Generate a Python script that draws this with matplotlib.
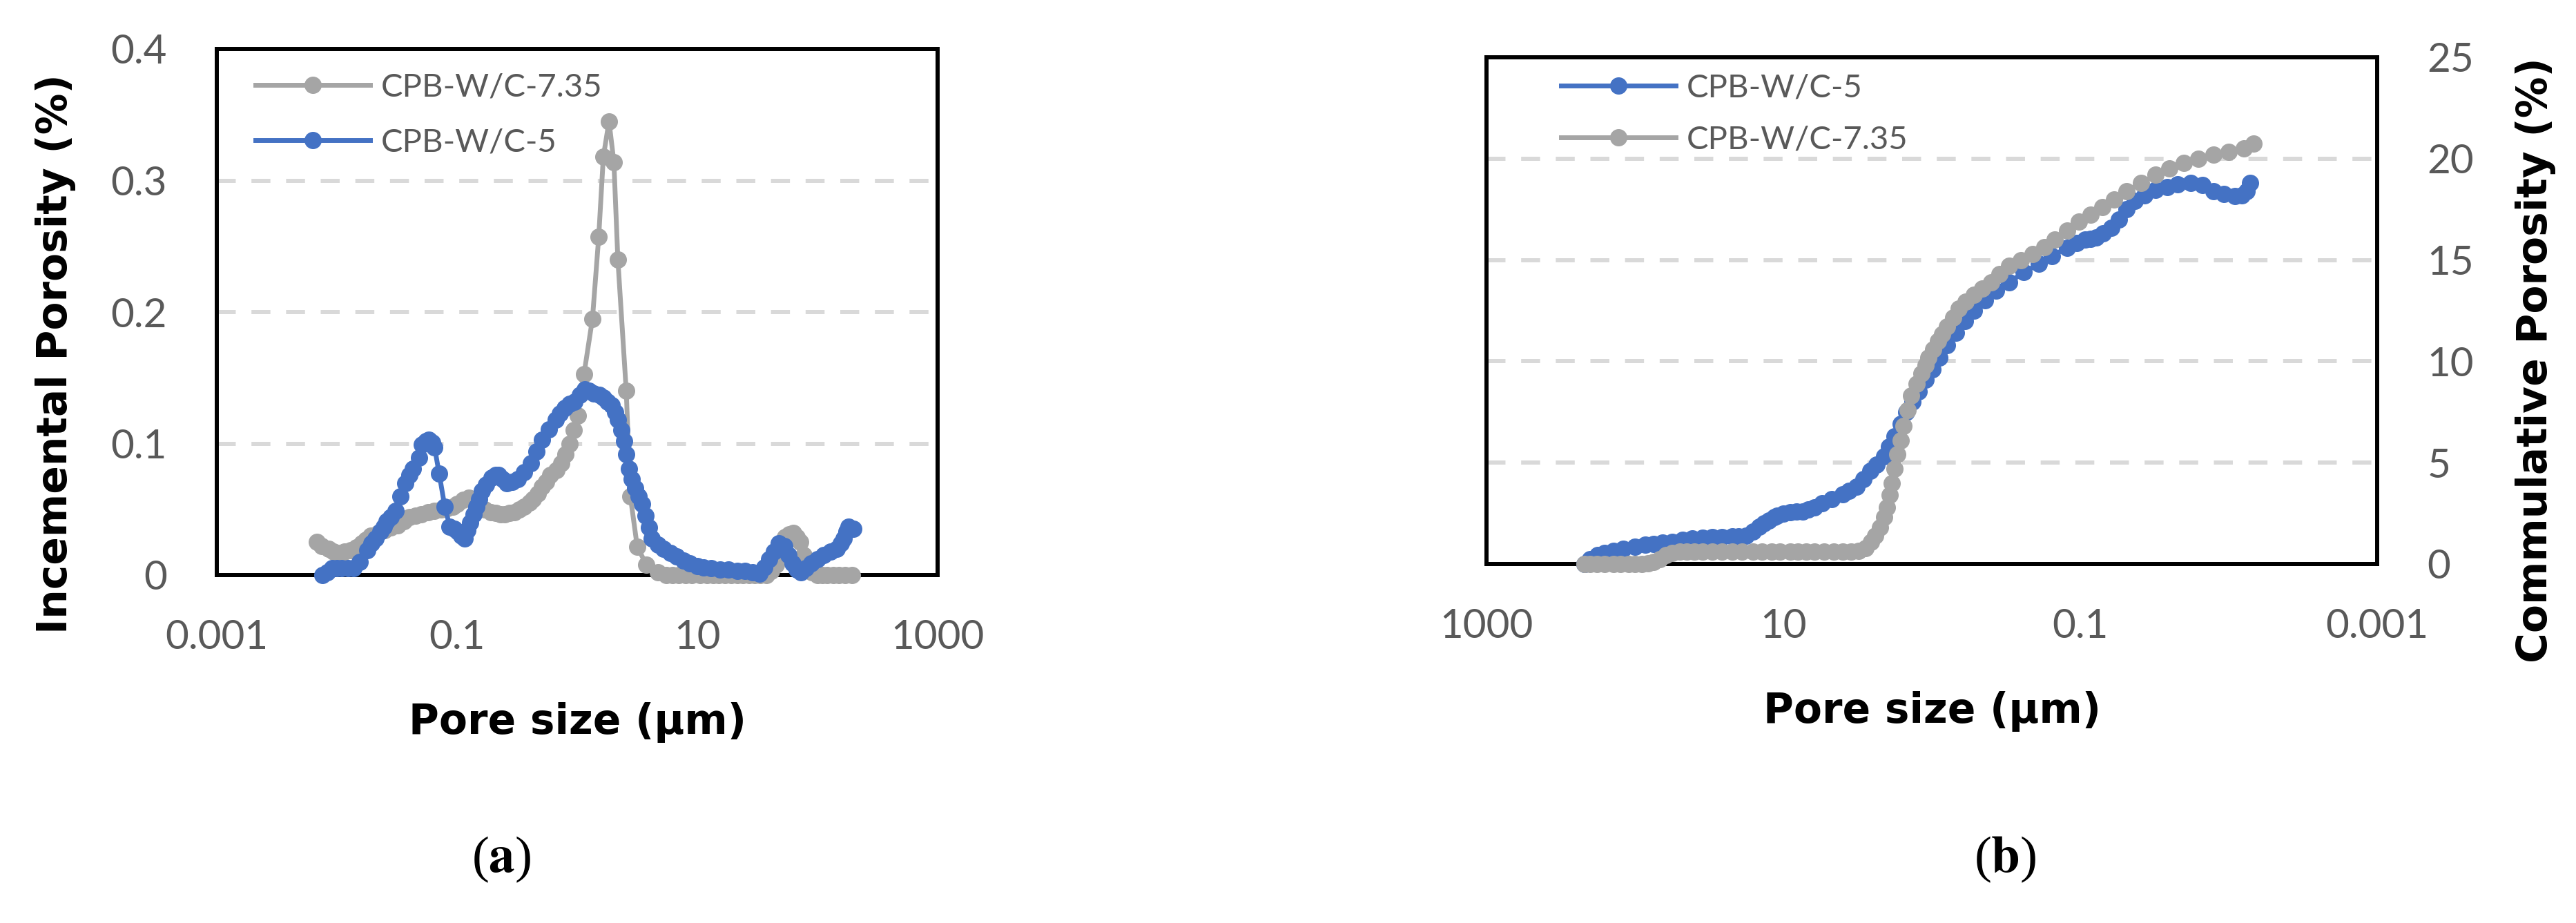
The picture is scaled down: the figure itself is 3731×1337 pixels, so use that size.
import matplotlib
matplotlib.use("Agg")
import matplotlib.pyplot as plt
from matplotlib.ticker import FixedLocator, FixedFormatter

# (a) incremental porosity vs pore size (um)
inc_x_735 = [0.0068, 0.0075, 0.0085, 0.0094, 0.0102, 0.0115, 0.013, 0.0145, 0.016, 0.0175, 0.019,
             0.022, 0.025, 0.028, 0.032, 0.036, 0.040, 0.045, 0.05, 0.057, 0.065, 0.074, 0.083,
             0.092, 0.10, 0.113, 0.126, 0.138, 0.15, 0.17, 0.19, 0.21, 0.23, 0.25, 0.275, 0.3,
             0.33, 0.36, 0.4, 0.43, 0.47, 0.51, 0.55, 0.6, 0.67, 0.74, 0.8, 0.87, 0.94, 1.01,
             1.14, 1.34, 1.51, 1.65, 1.84, 2.02, 2.18, 2.56, 2.77, 3.16, 3.76, 4.7, 5.5, 6.2, 7,
             8, 9, 10.5, 12, 13.5, 15, 17, 19, 21.5, 24, 27, 30, 33.5, 37.6, 41, 45, 49, 54, 58,
             63, 67, 72, 77, 83, 90, 100, 110, 120, 135, 150, 170, 195]
inc_y_735 = [0.025, 0.022, 0.020, 0.018, 0.017, 0.018, 0.019, 0.021, 0.024, 0.027, 0.030,
             0.032, 0.034, 0.036, 0.038, 0.041, 0.044, 0.045, 0.046, 0.048, 0.049, 0.050, 0.051,
             0.052, 0.054, 0.057, 0.059, 0.057, 0.055, 0.050, 0.048, 0.047, 0.046, 0.046, 0.047,
             0.048, 0.050, 0.052, 0.055, 0.058, 0.062, 0.067, 0.071, 0.076, 0.080, 0.085, 0.092,
             0.100, 0.110, 0.121, 0.153, 0.195, 0.257, 0.318, 0.345, 0.314, 0.240, 0.140, 0.060,
             0.0215, 0.008, 0.002, 0.0, 0.0, 0.0, 0.0, 0.0, 0.0, 0.0, 0.0, 0.0, 0.0, 0.0, 0.0,
             0.0, 0.0, 0.0, 0.0, 0.0, 0.003, 0.008, 0.018, 0.029, 0.031, 0.032, 0.029, 0.025,
             0.015, 0.006, 0.002, 0.0, 0.0, 0.0, 0.0, 0.0, 0.0, 0.0]
inc_x_5 = [0.0076, 0.0083, 0.0091, 0.01, 0.011, 0.0124, 0.0138, 0.0155, 0.0178, 0.0195, 0.021,
           0.023, 0.0245, 0.026, 0.028, 0.031, 0.034, 0.037, 0.040, 0.043, 0.048, 0.051, 0.055,
           0.058, 0.062, 0.065, 0.071, 0.079, 0.087, 0.095, 0.102, 0.108, 0.115, 0.122, 0.129,
           0.137, 0.145, 0.153, 0.162, 0.175, 0.195, 0.21, 0.22, 0.24, 0.26, 0.29, 0.32, 0.36,
           0.41, 0.46, 0.51, 0.58, 0.66, 0.72, 0.79, 0.87, 0.95, 1.05, 1.15, 1.26, 1.38, 1.52,
           1.66, 1.8, 1.95, 2.07, 2.19, 2.32, 2.45, 2.57, 2.69, 2.85, 3.02, 3.24, 3.47, 3.72,
           3.95, 4.17, 4.7, 5.25, 6.0, 6.76, 7.7, 8.7, 10, 11.2, 13, 15.5, 18.2, 21.5, 25, 29,
           33, 36, 39.8, 43.5, 47.9, 53, 57, 61.7, 67, 72.4, 80, 89, 100, 112, 128, 145, 156,
           166, 175, 182, 200]
inc_y_5 = [0.0, 0.002, 0.005, 0.005, 0.005, 0.005, 0.005, 0.010, 0.019, 0.024, 0.028, 0.033,
           0.037, 0.041, 0.044, 0.049, 0.060, 0.070, 0.076, 0.081, 0.089, 0.099, 0.102, 0.103,
           0.101, 0.097, 0.077, 0.052, 0.037, 0.035, 0.033, 0.030, 0.028, 0.034, 0.040, 0.046,
           0.052, 0.058, 0.064, 0.069, 0.074, 0.076, 0.076, 0.073, 0.070, 0.071, 0.073, 0.078,
           0.085, 0.094, 0.103, 0.111, 0.118, 0.123, 0.127, 0.130, 0.132, 0.137, 0.141, 0.140,
           0.138, 0.137, 0.135, 0.132, 0.129, 0.124, 0.118, 0.110, 0.102, 0.092, 0.081, 0.073,
           0.066, 0.060, 0.054, 0.045, 0.036, 0.028, 0.023, 0.020, 0.017, 0.014, 0.011, 0.009,
           0.007, 0.006, 0.005, 0.004, 0.004, 0.003, 0.003, 0.002, 0.001, 0.006, 0.012, 0.018,
           0.024, 0.022, 0.015, 0.009, 0.004, 0.002, 0.005, 0.009, 0.012, 0.015, 0.018, 0.020,
           0.024, 0.028, 0.033, 0.037, 0.035]

# (b) cumulative porosity vs pore size (um)
cum_x_5 = [219, 200, 178, 160, 140, 120, 100, 85, 75, 65, 56, 48, 41, 35, 30, 26, 22, 20, 17.8,
           16, 14.5, 13.5, 12.5, 11.5, 11, 10, 9, 8.2, 7.4, 6.8, 6.2, 5.5, 4.7, 4.0, 3.6, 3.2,
           2.9, 2.6, 2.35, 2.1, 1.95, 1.78, 1.62, 1.48, 1.35, 1.23, 1.1, 0.99, 0.89, 0.79, 0.69,
           0.60, 0.52, 0.44, 0.37, 0.30, 0.24, 0.19, 0.155, 0.123, 0.105, 0.093, 0.085, 0.078,
           0.07, 0.062, 0.055, 0.049, 0.043, 0.037, 0.031, 0.026, 0.022, 0.018, 0.015, 0.0126,
           0.0108, 0.0091, 0.0082, 0.0076, 0.0072]
cum_y_5 = [0.0, 0.25, 0.45, 0.55, 0.65, 0.75, 0.85, 0.95, 1.0, 1.05, 1.1, 1.18, 1.25, 1.3,
           1.33, 1.34, 1.35, 1.37, 1.4, 1.6, 1.84, 2.0, 2.15, 2.3, 2.4, 2.48, 2.55, 2.58, 2.6,
           2.7, 2.8, 3.0, 3.2, 3.45, 3.6, 3.8, 4.2, 4.6, 4.9, 5.3, 5.8, 6.3, 6.9, 7.5, 8.0, 8.5,
           9.1, 9.6, 10.2, 10.8, 11.4, 12.0, 12.5, 13.0, 13.5, 13.9, 14.4, 14.8, 15.2, 15.6,
           15.85, 16.0, 16.05, 16.1, 16.3, 16.6, 17.0, 17.5, 17.9, 18.2, 18.45, 18.6, 18.75,
           18.8, 18.7, 18.4, 18.25, 18.15, 18.2, 18.4, 18.8]
cum_x_735 = [219, 200, 180, 160, 140, 125, 110, 100, 90, 82, 75, 68, 62, 56, 50, 45, 40, 35, 30,
             26, 22, 19, 16, 14, 12, 10.5, 9, 8, 7, 6.2, 5.3, 4.6, 4, 3.5, 3.1, 2.8, 2.57, 2.4,
             2.24, 2.1, 2.0, 1.93, 1.86, 1.78, 1.70, 1.62, 1.55, 1.46, 1.38, 1.27, 1.17, 1.1,
             1.05, 0.98, 0.91, 0.85, 0.79, 0.72, 0.66, 0.59, 0.52, 0.46, 0.40, 0.35, 0.30, 0.25,
             0.21, 0.175, 0.148, 0.123, 0.102, 0.085, 0.071, 0.059, 0.049, 0.039, 0.031, 0.025,
             0.020, 0.016, 0.0126, 0.0100, 0.0079, 0.0068]
cum_y_735 = [0.0, 0.0, 0.0, 0.0, 0.0, 0.0, 0.0, 0.0, 0.0, 0.05, 0.1, 0.25, 0.45, 0.55, 0.6, 0.6,
             0.6, 0.6, 0.6, 0.6, 0.6, 0.6, 0.6, 0.6, 0.6, 0.6, 0.6, 0.6, 0.6, 0.6, 0.6, 0.6, 0.6,
             0.62, 0.65, 0.8, 1.1, 1.4, 1.8, 2.3, 2.8, 3.4, 4.0, 4.7, 5.4, 6.1, 6.8, 7.6, 8.3,
             8.9, 9.4, 9.8, 10.2, 10.6, 11.0, 11.35, 11.7, 12.15, 12.6, 12.95, 13.3, 13.6, 13.9,
             14.3, 14.7, 15.0, 15.3, 15.65, 16.0, 16.45, 16.9, 17.25, 17.6, 18.0, 18.4, 18.8,
             19.2, 19.5, 19.8, 20.0, 20.2, 20.35, 20.5, 20.75]

x_ticks = [0.001, 0.1, 10, 1000]
x_ticklabels = ['0.001', '0.1', '10', '1000']
inc_ticks = [0, 0.1, 0.2, 0.3, 0.4]
inc_ticklabels = ['0', '0.1', '0.2', '0.3', '0.4']
cum_ticks = [0, 5, 10, 15, 20, 25]
cum_ticklabels = ['0', '5', '10', '15', '20', '25']

BLUE = '#4472C4'
GRAY = '#A5A5A5'
TXT = '#595959'
W, H = 3731, 1337

plt.rcParams['font.family'] = ['Lato', 'DejaVu Sans']
plt.rcParams['mathtext.fontset'] = 'stix'

fig = plt.figure(figsize=(W / 100, H / 100), dpi=100)
ax1 = fig.add_axes([314 / W, 1 - 833 / H, 1044 / W, 762 / H])
ax2 = fig.add_axes([2153 / W, 1 - 817 / H, 1290 / W, 734 / H])

line_kw = dict(lw=5, marker='o', ms=17, clip_on=False, zorder=5)


def style_axis(ax, yticks, ylabels):
    ax.set_xscale('log')
    ax.xaxis.set_major_locator(FixedLocator(x_ticks))
    ax.xaxis.set_major_formatter(FixedFormatter(x_ticklabels))
    ax.xaxis.set_minor_locator(FixedLocator([]))
    ax.set_yticks(yticks)
    ax.set_yticklabels(ylabels)
    ax.tick_params(length=0, labelsize=42, labelcolor=TXT)
    ax.tick_params(axis='x', pad=46)
    ax.tick_params(axis='y', pad=52)
    for s in ax.spines.values():
        s.set_linewidth(4.3)
        s.set_color('black')
    for v in yticks[1:-1]:
        ax.axhline(v, color='#D9D9D9', lw=4.3, dashes=(4.6, 3.8), zorder=1)


# (a)
ax1.plot(inc_x_735, inc_y_735, color=GRAY, label='CPB-W/C-7.35', **line_kw)
ax1.plot(inc_x_5, inc_y_5, color=BLUE, label='CPB-W/C-5', **line_kw)
ax1.set_xlim(0.001, 1000)
ax1.set_ylim(0, 0.4)
style_axis(ax1, inc_ticks, inc_ticklabels)
ax1.legend(loc='upper left', bbox_to_anchor=(0.054, 0.955), frameon=False, fontsize=34,
           labelcolor=TXT, handlelength=3.5, handletextpad=0.35, labelspacing=0.8,
           borderpad=0, borderaxespad=0)

# (b)
ax2.plot(cum_x_5, cum_y_5, color=BLUE, label='CPB-W/C-5', **line_kw)
ax2.plot(cum_x_735, cum_y_735, color=GRAY, label='CPB-W/C-7.35', **line_kw)
ax2.set_xlim(1000, 0.001)
ax2.set_ylim(0, 25)
style_axis(ax2, cum_ticks, cum_ticklabels)
ax2.yaxis.tick_right()
ax2.legend(loc='upper left', bbox_to_anchor=(0.084, 0.968), frameon=False, fontsize=34,
           labelcolor=TXT, handlelength=3.5, handletextpad=0.35, labelspacing=0.7,
           borderpad=0, borderaxespad=0)

lab_kw = dict(family='DejaVu Sans', fontweight='bold', fontsize=43, color='black')
fig.text(81 / W, 1 - 513 / H, 'Incemental Porosity (%)', rotation=90, ha='center', va='center', **lab_kw)
fig.text(3673 / W, 1 - 522 / H, 'Commulative Porosity (%)', rotation=90, ha='center', va='center', **lab_kw)
fig.text(836 / W, 1 - 1063 / H, 'Pore size (μm)', ha='center', va='baseline', **lab_kw)
fig.text(2798 / W, 1 - 1047 / H, 'Pore size (μm)', ha='center', va='baseline', **lab_kw)

cap_kw = dict(family='Liberation Serif', fontsize=54, color='black', ha='center', va='center')
fig.text(726 / W, 1 - 1245 / H, r'($\mathbf{a}$)', **cap_kw)
fig.text(2904 / W, 1 - 1245 / H, r'($\mathbf{b}$)', **cap_kw)

fig.savefig('out.png', dpi=100, facecolor='white')
